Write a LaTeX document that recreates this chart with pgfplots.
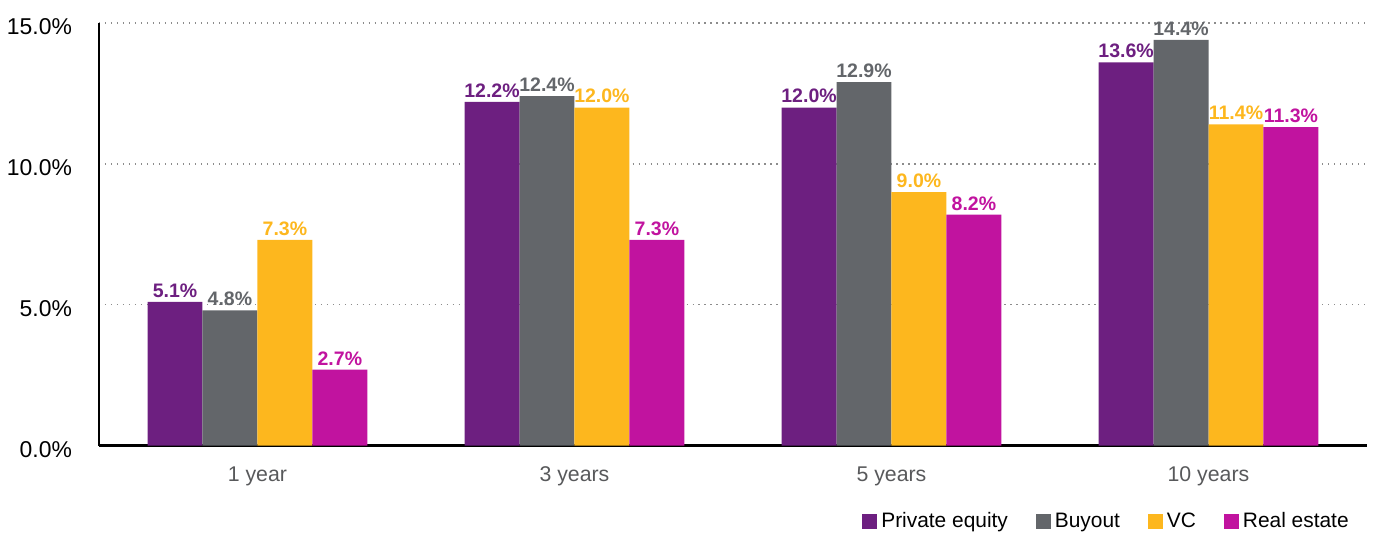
\documentclass[border=0pt]{standalone}
\usepackage{pgfplots}
\pgfplotsset{compat=1.18}
\usepackage{fontspec}
\setmainfont{Liberation Sans}

\definecolor{pe}{HTML}{6D1F80}
\definecolor{bo}{HTML}{63666A}
\definecolor{vc}{HTML}{FDB71E}
\definecolor{re}{HTML}{C1139F}
\definecolor{catgray}{HTML}{58595B}

\begin{document}
\begin{tikzpicture}
  \begin{axis}[
      name=main,
      at={(0,0)}, anchor=south west,
      width=634.5bp, height=211.5bp,
      scale only axis,
      ybar=0pt,
      bar width=27.5bp,
      xmin=-0.5, xmax=3.5,
      ymin=0, ymax=15,
      xtick={0,1,2,3},
      xticklabels={1 year,3 years,5 years,10 years},
      ytick={0,5,10,15},
      yticklabels={0.0\%,5.0\%,10.0\%,15.0\%},
      major tick length=0pt,
      axis lines*=left,
      axis line style={black, line width=1.2pt},
      ymajorgrids,
      grid style={gray!90, line width=0.7pt, dash pattern=on 0.7bp off 2.3bp},
      x tick label style={font=\fontsize{10.7}{12}\selectfont, text=catgray, yshift=-7bp},
      y tick label style={font=\fontsize{11.5}{13}\selectfont, xshift=-10bp, yshift=-2bp},
      nodes near coords={\pgfmathprintnumber[fixed,fixed zerofill,precision=1,assume math mode=true]{\pgfplotspointmeta}\%},
      nodes near coords style={font=\bfseries\fontsize{9.8}{11}\selectfont, inner sep=2bp},
      legend style={at={(rel axis cs:0.9937,-0.18)}, anchor=east, draw=none,
        font=\fontsize{10.5}{12}\selectfont, column sep=0pt},
      legend columns=-1,
      legend image code/.code={\fill[#1] (0bp,-3.8bp) rectangle (7.5bp,3.8bp);},
      /tikz/every even column/.append style={column sep=12bp},
    ]
    % Private equity
    \addplot[fill=pe, draw=none, nodes near coords style={text=pe}] coordinates {
      (0,5.1) (1,12.2) (2,12.0) (3,13.6)
    };
    % Buyout
    \addplot[fill=bo, draw=none, nodes near coords style={text=bo}] coordinates {
      (0,4.8) (1,12.4) (2,12.9) (3,14.4)
    };
    % VC
    \addplot[fill=vc, draw=none, nodes near coords style={text=vc}] coordinates {
      (0,7.3) (1,12.0) (2,9.0) (3,11.4)
    };
    % Real estate
    \addplot[fill=re, draw=none, nodes near coords style={text=re}] coordinates {
      (0,2.7) (1,7.3) (2,8.2) (3,11.3)
    };
    \legend{Private equity,Buyout,VC,Real estate}
  \end{axis}
  \useasboundingbox ([xshift=-49.5bp,yshift=-45bp]main.south west)
    rectangle ([xshift=7bp,yshift=11.5bp]main.north east);
\end{tikzpicture}
\end{document}
